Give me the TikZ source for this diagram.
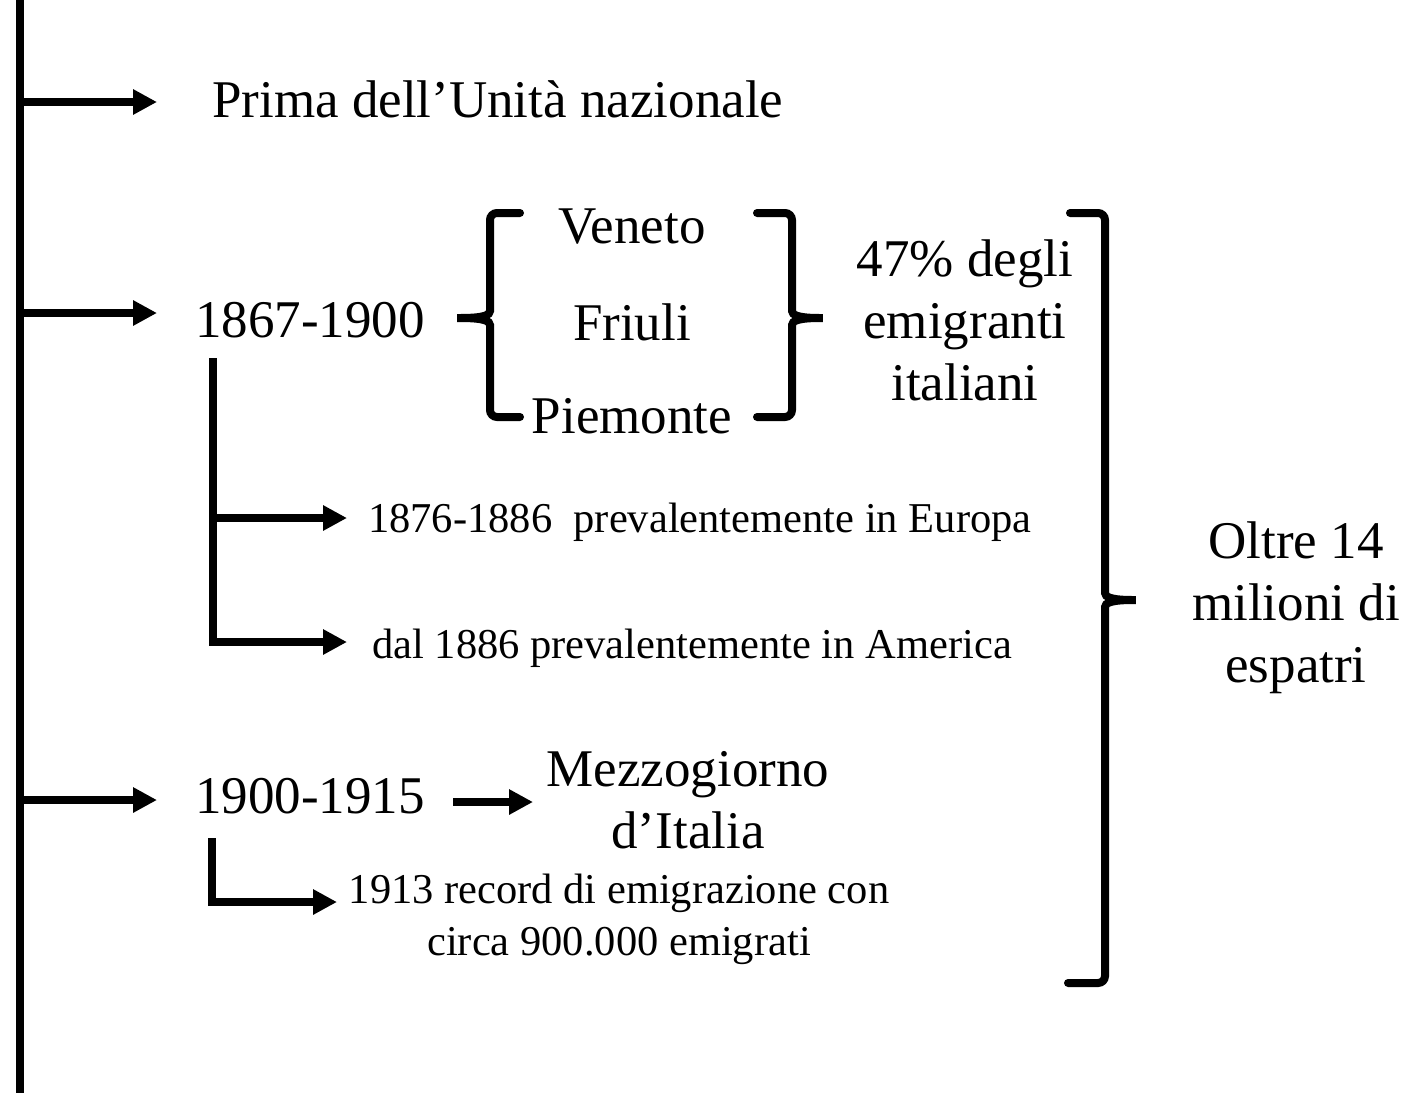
\documentclass[tikz,border=0pt]{standalone}
\usepackage{fontspec}
\setmainfont{Liberation Serif}
\usetikzlibrary{arrows.meta}
\begin{document}
\begin{tikzpicture}[x=1pt,y=-1pt,
  big/.style={inner sep=0pt,font=\fontsize{53}{62}\selectfont},
  small/.style={inner sep=0pt,font=\fontsize{42.5}{52}\selectfont},
  thick line/.style={line width=8pt},
  arr/.style={line width=8pt,-{Triangle[length=24pt,width=24pt]}},
  brace/.style={line width=8pt,rounded corners=7pt,line cap=round}]
\useasboundingbox (0,0) rectangle (1407,1093);
% main vertical line
\coordinate (mtop) at (20,0);
\coordinate (mbot) at (20,1093);
\draw[thick line] (mtop) -- (mbot);
% texts
\node[big,anchor=base west] (prima) at (212,117) {Prima dell’Unità nazionale};
\node[big,anchor=base west] (p1) at (195,337) {1867-1900};
\node[big,anchor=base] (veneto) at (632,243) {Veneto};
\node[big,anchor=base] (friuli) at (632,340) {Friuli};
\node[big,anchor=base] (piemonte) at (632,433) {Piemonte};
\node[big,anchor=base,align=center] (pct) at (965,400) {47\% degli\\emigranti\\italiani};
\node[big,anchor=base,align=center] (oltre) at (1296,682) {Oltre 14\\milioni di\\espatri};
\node[small,anchor=base west] (e1) at (368,532) {1876-1886\ \ prevalentemente in Europa};
\node[small,anchor=base west] (e2) at (372,658) {dal 1886 prevalentemente in America};
\node[big,anchor=base west] (p2) at (195,813) {1900-1915};
\node[big,anchor=base,align=center] (mezz) at (688,848) {Mezzogiorno\\d’Italia};
\node[small,anchor=base,align=center] (rec) at (619,955) {1913 record di emigrazione con\\circa 900.000 emigrati};
% arrows from main line
\coordinate (a1s) at (20,102); \coordinate (a1e) at (157,102);
\coordinate (a2s) at (20,313); \coordinate (a2e) at (157,313);
\coordinate (a3s) at (20,800); \coordinate (a3e) at (157,800);
\draw[arr] (a1s) -- (a1e);
\draw[arr] (a2s) -- (a2e);
\draw[arr] (a3s) -- (a3e);
% sub-branches of 1867-1900
\coordinate (s1) at (213,358);
\coordinate (s1a) at (213,518); \coordinate (s1b) at (213,642);
\coordinate (t1a) at (347,518); \coordinate (t1b) at (347,642);
\draw[thick line] (s1) -- ([yshift=4pt]s1b);
\draw[arr] (s1a) -- (t1a);
\draw[arr] ([xshift=-4pt]s1b) -- (t1b);
% 1900-1915 -> Mezzogiorno
\coordinate (m1) at (453,802); \coordinate (m2) at (533,802);
\draw[arr] (m1) -- (m2);
% L branch of 1900-1915
\coordinate (s2) at (212,838); \coordinate (s2b) at (212,902); \coordinate (t2) at (337,902);
\draw[thick line] (s2) -- ([yshift=4pt]s2b);
\draw[arr] ([xshift=-4pt]s2b) -- (t2);
% left brace
\draw[brace] (520,213) -- (490,213) -- (490,304) .. controls (490,315) and (484,318) .. (453,318)
   .. controls (484,318) and (490,321) .. (490,332) -- (490,417) -- (520,417);
% right small brace
\draw[brace] (757,213) -- (792,213) -- (792,304) .. controls (792,315) and (798,318) .. (827,318)
   .. controls (798,318) and (792,321) .. (792,332) -- (792,417) -- (757,417);
% big brace
\draw[brace] (1070,213) -- (1105,213) -- (1105,586) .. controls (1105,597) and (1111,600) .. (1140,600)
   .. controls (1111,600) and (1105,603) .. (1105,614) -- (1105,983) -- (1068,983);
\end{tikzpicture}
\end{document}
